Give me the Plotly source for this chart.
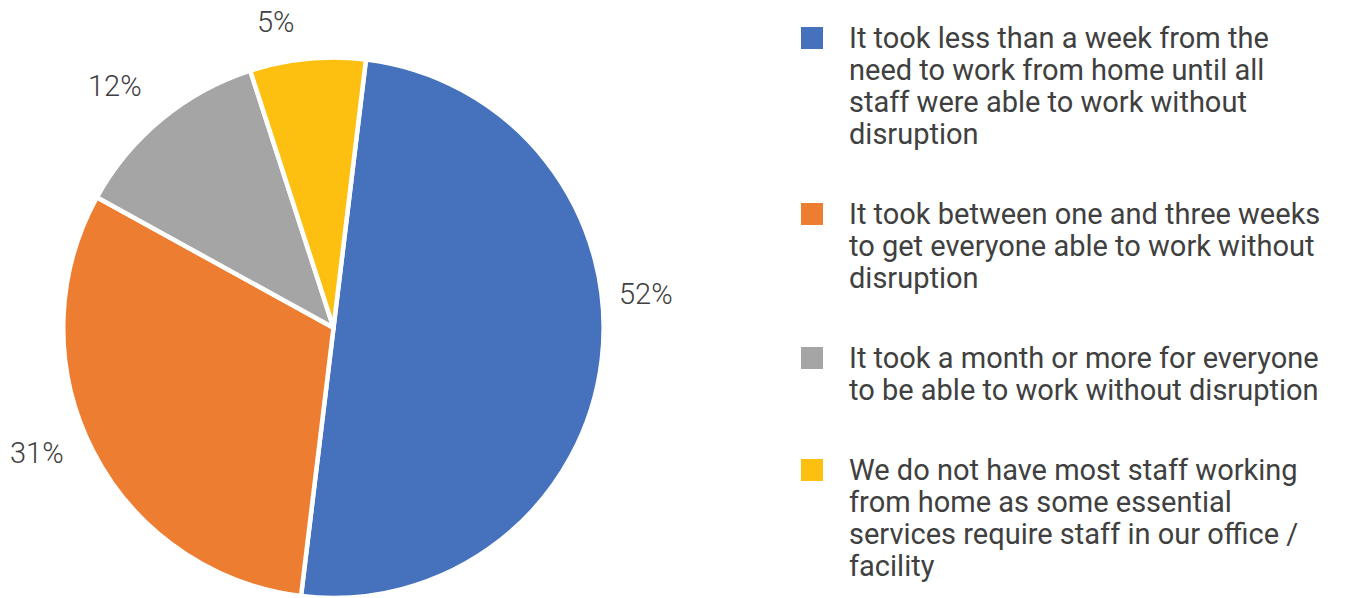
import plotly.graph_objects as go

# ---- data ----
categories = [
    "It took less than a week from the<br>need to work from home until all<br>staff were able to work without<br>disruption",
    "It took between one and three weeks<br>to get everyone able to work without<br>disruption",
    "It took a month or more for everyone<br>to be able to work without disruption",
    "We do not have most staff working<br>from home as some essential<br>services require staff in our office /<br>facility",
]
# slice shares as drawn (angle-measured)
slice_values = [50.0, 31.1, 12.0, 6.9]
# data labels as printed on the chart
label_texts = ["52%", "31%", "12%", "5%"]
colors = ["#4672BD", "#ED7D31", "#A5A5A5", "#FDC010"]

W, H = 1352, 598
TEXT_COLOR = "#404040"

def px(x):
    return x / W

def py(y):
    return 1 - y / H

fig = go.Figure()
fig.add_trace(go.Pie(
    values=slice_values,
    labels=[c.replace("<br>", " ") for c in categories],
    marker=dict(colors=colors, line=dict(color="white", width=4.5)),
    sort=False,
    direction="clockwise",
    rotation=6.9,
    textinfo="none",
    hoverinfo="label+percent",
    showlegend=False,
    domain=dict(x=[px(63), px(604)], y=[0.0, py(57.5)]),
))

annotations = []
shapes = []

# data labels (positions chosen to match the reference's label placement)
label_pos = [(646, 293.5), (37, 453), (115, 86), (276, 22)]
for txt, (lx, ly) in zip(label_texts, label_pos):
    annotations.append(dict(
        x=px(lx), y=py(ly), xref="paper", yref="paper",
        text=txt, showarrow=False, xanchor="center", yanchor="middle",
        font=dict(family="Roboto", size=29, color=TEXT_COLOR, weight=300),
    ))

# custom legend
line_step = 32
item_gap = 80
y = 38
for cat, col in zip(categories, colors):
    lines = cat.split("<br>")
    shapes.append(dict(
        type="rect", xref="paper", yref="paper",
        x0=px(801), x1=px(823), y0=py(y - 11), y1=py(y + 11),
        fillcolor=col, line=dict(width=0),
    ))
    for i, ln in enumerate(lines):
        annotations.append(dict(
            x=px(847), y=py(y + i * line_step), xref="paper", yref="paper",
            text=ln, showarrow=False, xanchor="left", yanchor="middle",
            font=dict(family="Roboto", size=29, color=TEXT_COLOR),
        ))
    y = y + (len(lines) - 1) * line_step + item_gap

fig.update_layout(
    width=W, height=H,
    margin=dict(l=0, r=0, t=0, b=0),
    paper_bgcolor="white",
    plot_bgcolor="white",
    annotations=annotations,
    shapes=shapes,
)

fig.write_html("out.html")
